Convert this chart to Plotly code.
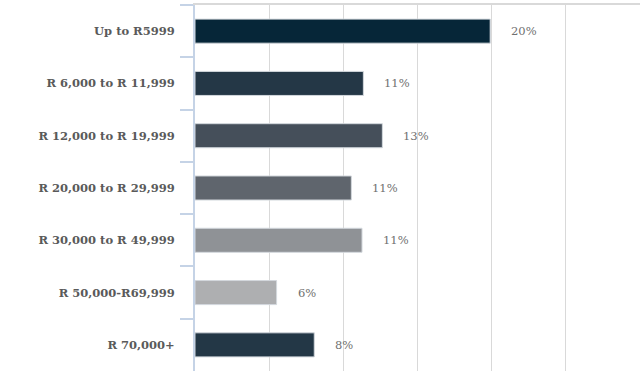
import plotly.graph_objects as go

categories = ["Up to R5999", "R 6,000 to R 11,999", "R 12,000 to R 19,999",
              "R 20,000 to R 29,999", "R 30,000 to R 49,999", "R 50,000-R69,999",
              "R 70,000+"]
values = [19.9, 11.35, 12.63, 10.54, 11.26, 5.5, 8.04]
value_labels = ["20%", "11%", "13%", "11%", "11%", "6%", "8%"]
bar_colors = ["#062638", "#243746", "#454f5a", "#5f656d", "#8f9296", "#aeafb1", "#233746"]

fig = go.Figure()
fig.add_trace(go.Bar(
    y=categories, x=values, orientation="h",
    marker=dict(color=bar_colors, line=dict(color="#d3d8dd", width=1)),
    width=0.46, hoverinfo="skip",
))

for c, v, t in zip(categories, values, value_labels):
    fig.add_annotation(x=v, y=c, xref="x", yref="y", text=t, showarrow=False,
                       xanchor="left", xshift=19,
                       font=dict(family="DejaVu Serif", size=11.5, color="#707070"))

fig.update_layout(
    width=641, height=371,
    margin=dict(l=195, r=1, t=5, b=0),
    paper_bgcolor="white", plot_bgcolor="white",
    showlegend=False,
    xaxis=dict(range=[0, 30], dtick=5, showgrid=True, gridcolor="#d9d9d9", gridwidth=1,
               zeroline=False, showticklabels=False, side="top",
               showline=True, linecolor="#d9d9d9", linewidth=2, fixedrange=True),
    yaxis=dict(autorange="reversed", showline=True, linecolor="#c5d3e6", linewidth=2,
               ticks="outside", tickson="boundaries", ticklen=13, tickcolor="#c5d3e6",
               tickwidth=1.5, ticklabelstandoff=16,
               tickfont=dict(family="DejaVu Serif", size=11.5, color="#5a5a5a",
                             weight="bold"),
               showgrid=False, fixedrange=True),
)

fig.write_html("out.html")
